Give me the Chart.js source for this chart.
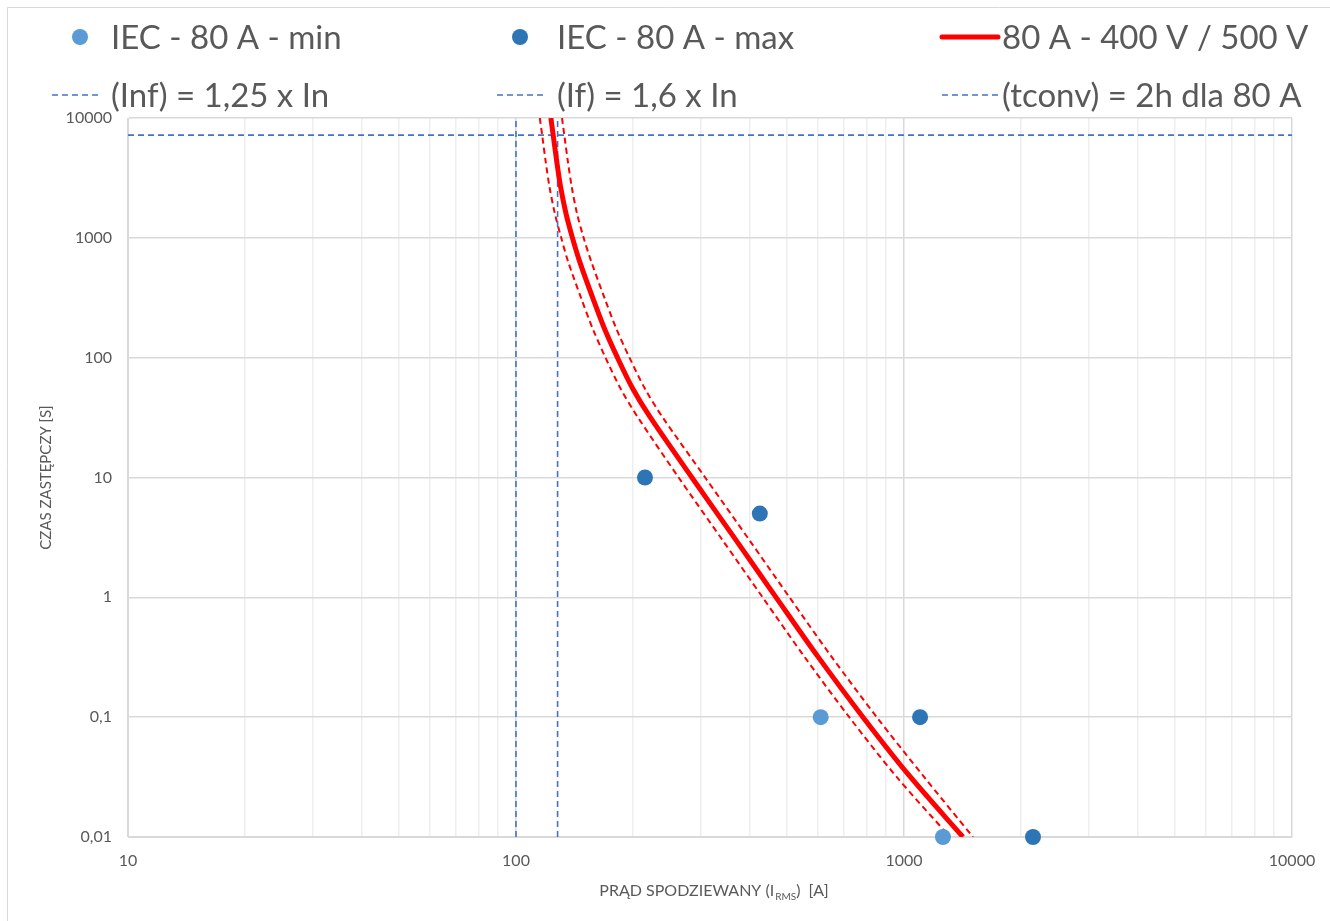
<!DOCTYPE html>
<html>
<head>
<meta charset="utf-8">
<script src="https://cdn.jsdelivr.net/npm/chart.js@4.4.1/dist/chart.umd.min.js"></script>
<style>
  html, body { margin: 0; padding: 0; background: #fff; }
  canvas { display: block; }
</style>
</head>
<body>
<canvas id="fuseChart" width="1330" height="921"></canvas>
<script>
// czasy [s] i prądy [A]
const curveTime = [10000, 7200, 4300, 2700, 1600, 1000, 630, 310, 175, 100, 55, 32, 10, 3, 1, 0.32, 0.1, 0.032, 0.01];
const curveMain = [123, 124.7, 127.4, 130.2, 134.5, 139.8, 146, 158, 169, 182.6, 200, 221.5, 284, 369, 468, 600, 784, 1036, 1419];
const curveLow  = [115.2, 116.8, 119.3, 121.9, 125.9, 130.8, 136.3, 147.4, 157.6, 170.1, 186.1, 205.8, 262.5, 340.7, 432.1, 553.5, 722.6, 955, 1314];
const curveHigh = [131.4, 133.2, 136.1, 139.1, 143.6, 149.4, 156.4, 169.4, 181.3, 196.1, 215, 238.4, 307.3, 399.6, 506.8, 650.4, 850.6, 1124, 1506];

const iecMinCurrent = [610, 1260];
const iecMinTime = [0.1, 0.01];
const iecMaxCurrent = [215, 425, 1100, 2150];
const iecMaxTime = [10, 5, 0.1, 0.01];

const currentInf = 100;   // 1,25 x In
const currentIf = 128;    // 1,6 x In
const timeConv = 7200;    // 2h

const xTickValues = [10, 100, 1000, 10000];
const xTickLabels = ['10', '100', '1000', '10000'];
const yTickValues = [0.01, 0.1, 1, 10, 100, 1000, 10000];
const yTickLabels = ['0,01', '0,1', '1', '10', '100', '1000', '10000'];

const seriesLabels = ['IEC - 80 A - min', 'IEC - 80 A - max', '80 A - 400 V / 500 V',
  '(Inf) = 1,25 x In', '(If) = 1,6 x In', '(tconv) = 2h dla 80 A'];

function pairs(xs, ys) {
  return xs.map((x, i) => ({ x: x, y: ys[i] }));
}

const FONT = 'Lato';
const TEXT = '#595959';
const BLUE_DASH = '#4472C4';

const frame = {
  id: 'frame',
  beforeDraw(chart) {
    const ctx = chart.ctx;
    ctx.save();
    ctx.fillStyle = '#fff';
    ctx.fillRect(0, 0, chart.width, chart.height);
    ctx.strokeStyle = '#d9d9d9';
    ctx.lineWidth = 1;
    ctx.beginPath();
    ctx.moveTo(7.5, chart.height);
    ctx.lineTo(7.5, 7.5);
    ctx.lineTo(chart.width, 7.5);
    ctx.stroke();
    ctx.restore();
  }
};

const topLegend = {
  id: 'topLegend',
  afterDraw(chart) {
    const ctx = chart.ctx;
    const cols = [
      { text: 111, dot: 80, l0: 52, l1: 101 },
      { text: 557, dot: 520, l0: 497, l1: 547 },
      { text: 1002, dot: 970, l0: 942, l1: 998 }
    ];
    const rows = [37, 95];
    let n = 0;
    ctx.save();
    chart.data.datasets.forEach(ds => {
      if (ds.noLegend) return;
      const c = cols[n % 3];
      const y = rows[Math.floor(n / 3)];
      n++;
      if (ds.showLine) {
        ctx.strokeStyle = ds.borderColor;
        ctx.lineWidth = ds.borderWidth;
        ctx.setLineDash(ds.borderDash ? [6, 4] : []);
        ctx.lineCap = ds.borderDash ? 'butt' : 'round';
        ctx.beginPath();
        ctx.moveTo(c.l0, y);
        ctx.lineTo(c.l1, y);
        ctx.stroke();
        ctx.setLineDash([]);
      } else {
        ctx.fillStyle = ds.backgroundColor;
        ctx.beginPath();
        ctx.arc(c.dot, y, 8, 0, Math.PI * 2);
        ctx.fill();
      }
      ctx.fillStyle = TEXT;
      ctx.font = '33px ' + FONT;
      ctx.textBaseline = 'middle';
      ctx.textAlign = 'left';
      ctx.fillText(ds.label, c.text, y + 1);
    });
    ctx.restore();
  }
};

// tytuł osi X z indeksem dolnym RMS
const xTitle = {
  id: 'xTitle',
  afterDraw(chart) {
    const ctx = chart.ctx;
    const area = chart.chartArea;
    const partA = 'PRĄD SPODZIEWANY (I';
    const partB = 'RMS';
    const partC = ')  [A]';
    ctx.save();
    ctx.fillStyle = TEXT;
    ctx.textBaseline = 'alphabetic';
    ctx.textAlign = 'left';
    ctx.font = '16px ' + FONT;
    const wA = ctx.measureText(partA).width;
    const wC = ctx.measureText(partC).width;
    ctx.font = '10px ' + FONT;
    const wB = ctx.measureText(partB).width;
    const total = wA + wB + wC + 1;
    let x = (area.left + area.right) / 2 + 4 - total / 2;
    const y = 896;
    ctx.font = '16px ' + FONT;
    ctx.fillText(partA, x, y);
    x += wA + 1;
    ctx.font = '10px ' + FONT;
    ctx.fillText(partB, x, y + 4);
    x += wB;
    ctx.font = '16px ' + FONT;
    ctx.fillText(partC, x, y);
    ctx.restore();
  }
};

const ctx = document.getElementById('fuseChart').getContext('2d');

new Chart(ctx, {
  type: 'scatter',
  data: {
    datasets: [
      {
        label: seriesLabels[0],
        data: pairs(iecMinCurrent, iecMinTime),
        backgroundColor: '#5B9BD5',
        borderColor: '#5B9BD5',
        pointRadius: 8,
        pointBorderWidth: 0,
        clip: false
      },
      {
        label: seriesLabels[1],
        data: pairs(iecMaxCurrent, iecMaxTime),
        backgroundColor: '#2E75B6',
        borderColor: '#2E75B6',
        pointRadius: 8,
        pointBorderWidth: 0,
        clip: false
      },
      {
        label: seriesLabels[2],
        data: pairs(curveMain, curveTime),
        showLine: true,
        borderColor: '#FF0000',
        borderWidth: 5,
        pointRadius: 0,
        tension: 0.3
      },
      {
        label: seriesLabels[3],
        data: [{ x: currentInf, y: 0.01 }, { x: currentInf, y: 10000 }],
        showLine: true,
        borderColor: BLUE_DASH,
        borderWidth: 1.6,
        borderDash: [6, 4],
        pointRadius: 0
      },
      {
        label: seriesLabels[4],
        data: [{ x: currentIf, y: 0.01 }, { x: currentIf, y: 10000 }],
        showLine: true,
        borderColor: BLUE_DASH,
        borderWidth: 1.6,
        borderDash: [6, 4],
        pointRadius: 0
      },
      {
        label: seriesLabels[5],
        data: [{ x: 10, y: timeConv }, { x: 10000, y: timeConv }],
        showLine: true,
        borderColor: BLUE_DASH,
        borderWidth: 1.6,
        borderDash: [6, 4],
        pointRadius: 0
      },
      {
        label: 'min',
        noLegend: true,
        data: pairs(curveLow, curveTime),
        showLine: true,
        borderColor: '#FF0000',
        borderWidth: 2,
        borderDash: [6, 4],
        pointRadius: 0,
        tension: 0.3
      },
      {
        label: 'max',
        noLegend: true,
        data: pairs(curveHigh, curveTime),
        showLine: true,
        borderColor: '#FF0000',
        borderWidth: 2,
        borderDash: [6, 4],
        pointRadius: 0,
        tension: 0.3
      }
    ]
  },
  options: {
    responsive: false,
    animation: false,
    layout: { padding: { top: 118, right: 38, left: 0, bottom: 0 } },
    plugins: {
      legend: { display: false },
      tooltip: { enabled: false }
    },
    scales: {
      x: {
        type: 'logarithmic',
        min: 10,
        max: 10000,
        afterBuildTicks: (scale) => {
          const t = [];
          for (let d = 10; d < 10000; d *= 10) {
            for (let m = 1; m < 10; m++) t.push({ value: d * m });
          }
          t.push({ value: 10000 });
          scale.ticks = t;
        },
        afterFit: (scale) => { scale.height = 84; },
        ticks: {
          autoSkip: false,
          maxRotation: 0,
          padding: 14,
          color: TEXT,
          font: { family: FONT, size: 16 },
          callback: (value) => {
            const i = xTickValues.indexOf(value);
            return i >= 0 ? xTickLabels[i] : '';
          }
        },
        grid: {
          drawTicks: false,
          color: (c) => (c.tick && xTickValues.includes(c.tick.value)) ? '#d9d9d9' : '#eeeeee',
          lineWidth: 1.5
        },
        border: { color: '#d9d9d9' }
      },
      y: {
        type: 'logarithmic',
        min: 0.01,
        max: 10000,
        afterBuildTicks: (scale) => {
          scale.ticks = yTickValues.map(v => ({ value: v }));
        },
        afterFit: (scale) => { scale.width = 128; },
        ticks: {
          autoSkip: false,
          padding: 16,
          color: TEXT,
          font: { family: FONT, size: 16 },
          callback: (value) => {
            const i = yTickValues.indexOf(value);
            return i >= 0 ? yTickLabels[i] : '';
          }
        },
        grid: {
          drawTicks: false,
          color: '#d9d9d9',
          lineWidth: 1.5
        },
        border: { color: '#d9d9d9' },
        title: {
          display: true,
          text: 'CZAS ZASTĘPCZY [S]',
          color: TEXT,
          font: { family: FONT, size: 15 },
          padding: { top: 37, bottom: 0 }
        }
      }
    }
  },
  plugins: [frame, topLegend, xTitle]
});
</script>
</body>
</html>
